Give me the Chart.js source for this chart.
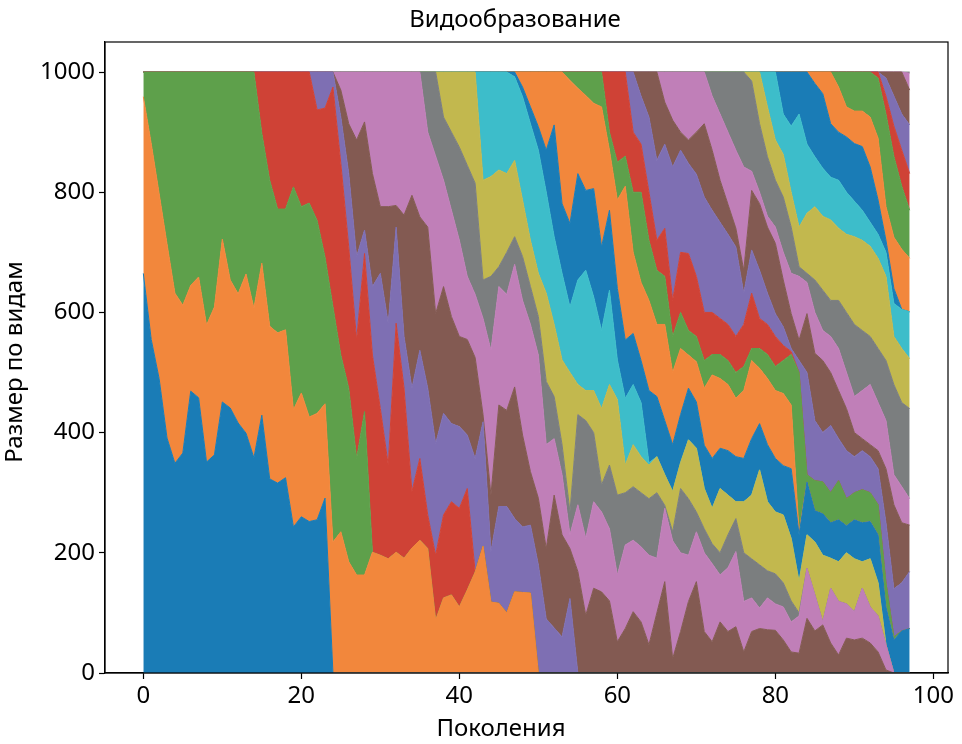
<!DOCTYPE html>
<html>
<head>
<meta charset="utf-8">
<script src="https://cdn.jsdelivr.net/npm/chart.js@4.4.1/dist/chart.umd.min.js"></script>
<style>
  html, body { margin: 0; padding: 0; background: #ffffff; }
  canvas { display: block; }
</style>
</head>
<body>
<canvas id="chart" width="962" height="744"></canvas>
<script>
// ---- data: cumulative upper edge of each species band, per generation ----
const chartTitle = 'Видообразование';
const xTitle = 'Поколения';
const yTitle = 'Размер по видам';
const lastGeneration = 97;
const xTicks = [0, 20, 40, 60, 80, 100];
const yTicks = [0, 200, 400, 600, 800, 1000];

// first generation in which each species has members
const speciesStart = [0,0,0,15,22,25,25,36,38,43,47,48,54,59,62,63,66,72,77,79,81,85,88,93,94,94,97,97];

const sp00 = [665,555,490,391,349,366,469,458,351,363,451,441,416,399,358,429,323,316,325,243,260,252,255,291];
const sp01 = [959,881,798,714,632,612,645,659,579,609,722,654,631,664,607,682,577,566,571,438,466,426,432,448,218,235,185,163,163,201,196,190,201,191,208,221,207,88,125,130,110,138,168,211,118,116,100,135,134,133];
const sp02 = [1000,1000,1000,1000,1000,1000,1000,1000,1000,1000,1000,1000,1000,1000,1000,898,820,772,772,809,776,782,753,692,610,529,474,357,435];
const sp03 = [1000,1000,1000,1000,1000,1000,1000,937,940,975,848,709,554,698,529,440,346,582,474,302,357,263,196,263,285,274,307];
const sp04 = [1000,1000,1000,925,831,693,737,643,665,582,742,560,474,537,474,382,432,415,410,396,357,418,202,277,277,257,243,246,180,90,75,60,124];
const sp05 = [970,914,887,917,831,776,776,778,762,795,759,742,598,643,593,560,555,525,430,296,446,437,476,396,335,291,207,296,230,207,169,96,141,135,120,52,74,102,85,47,100,152,24,69,119,152,69,52,85,69,77,35,69,74,72,71,55,35,33,91,70,80,50,30,58,55,58,50,35,5];
const sp06 = [1000,1000,1000,1000,1000,1000,1000,1000,1000,1000,1000,900,860,820,770,720,660,630,590,537,643,630,680,620,580,529,380,390,330,230,280,224,285,268,240,163,213,221,210,196,191,274,220,200,196,235,200,182,163,175,202,119,125,108,125,115,110,85,95,174,130,85,141,119,115,102,141,110,95,47];
const sp07 = [1000,1000,925,900,875,845,815,654,660,676,700,726,693,643,593,485,460,380,268,430,420,400,313,346,296,300,310,300,290,300,279,235,307,290,268,240,215,200,230,257,200,190,180,170,165,150,120,100];
const sp08 = [1000,1000,1000,1000,1000,820,826,837,831,853,787,720,665,632,580,521,500,480,470,470,440,480,455,346,380,360,346,360,330,302,350,388,374,307,274,307,296,285,285,296,338,285,268,263,224,152,230,218,196,191,185,200,190,185,190,150];
const sp09 = [1000,1000,1000,1000,992,959,914,870,800,726,665,609,654,670,626,570,637,521,457,480,450,350];
const sp10 = [1000,975,942,909,870,912,781,748,831,803,806,709,770,640,554,565,520,470,460,420,380,430,474,451,379,357,374,370,360,357,390,415,380,357,345,340,230,318,270,265,250,255,245,255,250,252,230,110,55,70,74];
const sp11 = [1000,1000,1000,1000,1000,1000,986,973,961,948,942,870,787,810,700,650,620,580,580,500,540,529,518,474,496,490,480,457,470,520,507,490,470,465,446,235];
const sp12 = [1000,1000,1000,1000,1000,900,850,860,800,800,720,670,660,560,600,570,560,520,530,530,520,500,510,540,540,530,510,520,530,500,330,320,318,300,320,290,300,305,300,280,150,60];
const sp13 = [1000,1000,1000,900,880,800,720,740,620,700,698,660,600,600,590,580,560,580,632,590,580,560,545,535];
const sp14 = [1000,960,925,853,880,842,870,848,830,792,770,750,730,709,632,704,670,632,598,576,540,520,500,420,400,412,390,370,360,370,360,340,250,140,150,169];
const sp15 = [1000,1000,1000,950,920,900,887,900,914,870,820,780,740,670,803,781,742,715,654,598,554,598,532,520,500,470,440,400,390,380,370,340,280,250,246];
const sp16 = [1000,1000,1000,1000,1000,1000,960,930,900,870,842,835,800,760,742,700,665,660,650,600,570,560,540,500,460,470,480,450,420,330,310,290];
const sp17 = [1000,1000,1000,1000,1000,985,914,859,820,792,742,676,665,654,637,620,620,600,580,570,560,540,520,480,450,440];
const sp18 = [1000,1000,942,887,863,800,742,765,776,760,754,740,730,726,720,710,690,660,560,540,523];
const sp19 = [1000,1000,930,910,930,880,859,840,825,820,800,785,770,750,730,700,615,605,601];
const sp20 = [1000,1000,1000,1000,981,964,914,900,892,881,876,842,787,720,640];
const sp21 = [1000,1000,1000,975,942,935,935,925,890,776,725,705,690];
const sp22 = [1000,1000,1000,1000,1000,990,930,860,810,770];
const sp23 = [1000,960,910,870,831];
const sp24 = [990,960,930,912];
const sp25 = [1000,1000,1000,970];
const sp26 = [998];
const sp27 = [1000];

const speciesTops = [sp00,sp01,sp02,sp03,sp04,sp05,sp06,sp07,sp08,sp09,sp10,sp11,sp12,sp13,sp14,
                     sp15,sp16,sp17,sp18,sp19,sp20,sp21,sp22,sp23,sp24,sp25,sp26,sp27];

// ---- styling ----
const palette = ['#1a7cb6','#f2873c','#5ea04b','#cf4236','#7e6fb3','#835a52','#c07fb8','#7b7e7f','#c2b84e','#3dbdca'];
const FONT = '"Noto Sans", "Open Sans", sans-serif';
const FONT_SIZE = 24;

// species size per generation = its upper edge minus the upper edge of the band below it
const sizes = speciesTops.map(() => []);
for (let g = 0; g <= lastGeneration; g++) {
  let below = 0;
  speciesTops.forEach((tops, i) => {
    const k = g - speciesStart[i];
    let v = 0;
    if (k >= 0 && k < tops.length) {
      v = Math.max(0, tops[k] - below);
      below = Math.max(below, tops[k]);
    }
    sizes[i].push({ x: g, y: v });
  });
}

const datasets = sizes.map((data, i) => {
  const col = palette[i % palette.length];
  return {
    label: 'Вид ' + (i + 1),
    data,
    fill: i === 0 ? 'origin' : '-1',
    backgroundColor: col,
    borderColor: col,
    borderWidth: 1,
    pointRadius: 0,
    pointHoverRadius: 0,
    tension: 0
  };
});

// frame around the plot + title and axis labels placed where the reference has them
const decorPlugin = {
  id: 'decor',
  afterDraw(chart) {
    const { ctx, chartArea: a } = chart;
    ctx.save();
    ctx.strokeStyle = '#000';
    ctx.lineWidth = 1.2;
    ctx.strokeRect(a.left, a.top, a.right - a.left, a.bottom - a.top);
    ctx.fillStyle = '#000';
    ctx.font = FONT_SIZE + 'px ' + FONT;
    ctx.textAlign = 'center';
    ctx.textBaseline = 'middle';
    ctx.fillText(chartTitle, 515, 20);
    ctx.fillText(xTitle, 501, 729);
    ctx.translate(15, 362);
    ctx.rotate(-Math.PI / 2);
    ctx.fillText(yTitle, 0, 0);
    ctx.restore();
  }
};

new Chart(document.getElementById('chart'), {
  type: 'line',
  data: { datasets },
  plugins: [decorPlugin],
  options: {
    responsive: false,
    animation: false,
    events: [],
    layout: { padding: { left: 0, right: 14, top: 42, bottom: 0 } },
    plugins: {
      legend: { display: false },
      tooltip: { enabled: false },
      title: { display: false },
      filler: { propagate: false }
    },
    scales: {
      x: {
        type: 'linear', min: -4.85, max: 101.85,
        afterBuildTicks: s => { s.ticks = xTicks.map(v => ({ value: v })); },
        afterFit: s => { s.height = 71; },
        grid: { display: true, drawOnChartArea: false, drawTicks: true, tickLength: 6, tickWidth: 1.2, tickColor: '#000' },
        border: { display: true, color: '#000', width: 1.2 },
        ticks: { color: '#000', font: { family: FONT, size: FONT_SIZE }, padding: 3, maxRotation: 0, autoSkip: false,
                 callback: v => String(v) },
        title: { display: false }
      },
      y: {
        stacked: true, min: 0, max: 1050,
        afterBuildTicks: s => { s.ticks = yTicks.map(v => ({ value: v })); },
        afterFit: s => { s.width = 105; },
        grid: { display: true, drawOnChartArea: false, drawTicks: true, tickLength: 6, tickWidth: 1.2, tickColor: '#000' },
        border: { display: true, color: '#000', width: 1.2 },
        ticks: { color: '#000', font: { family: FONT, size: FONT_SIZE }, padding: 4, autoSkip: false,
                 callback: v => String(v) },
        title: { display: false }
      }
    }
  }
});
</script>
</body>
</html>
